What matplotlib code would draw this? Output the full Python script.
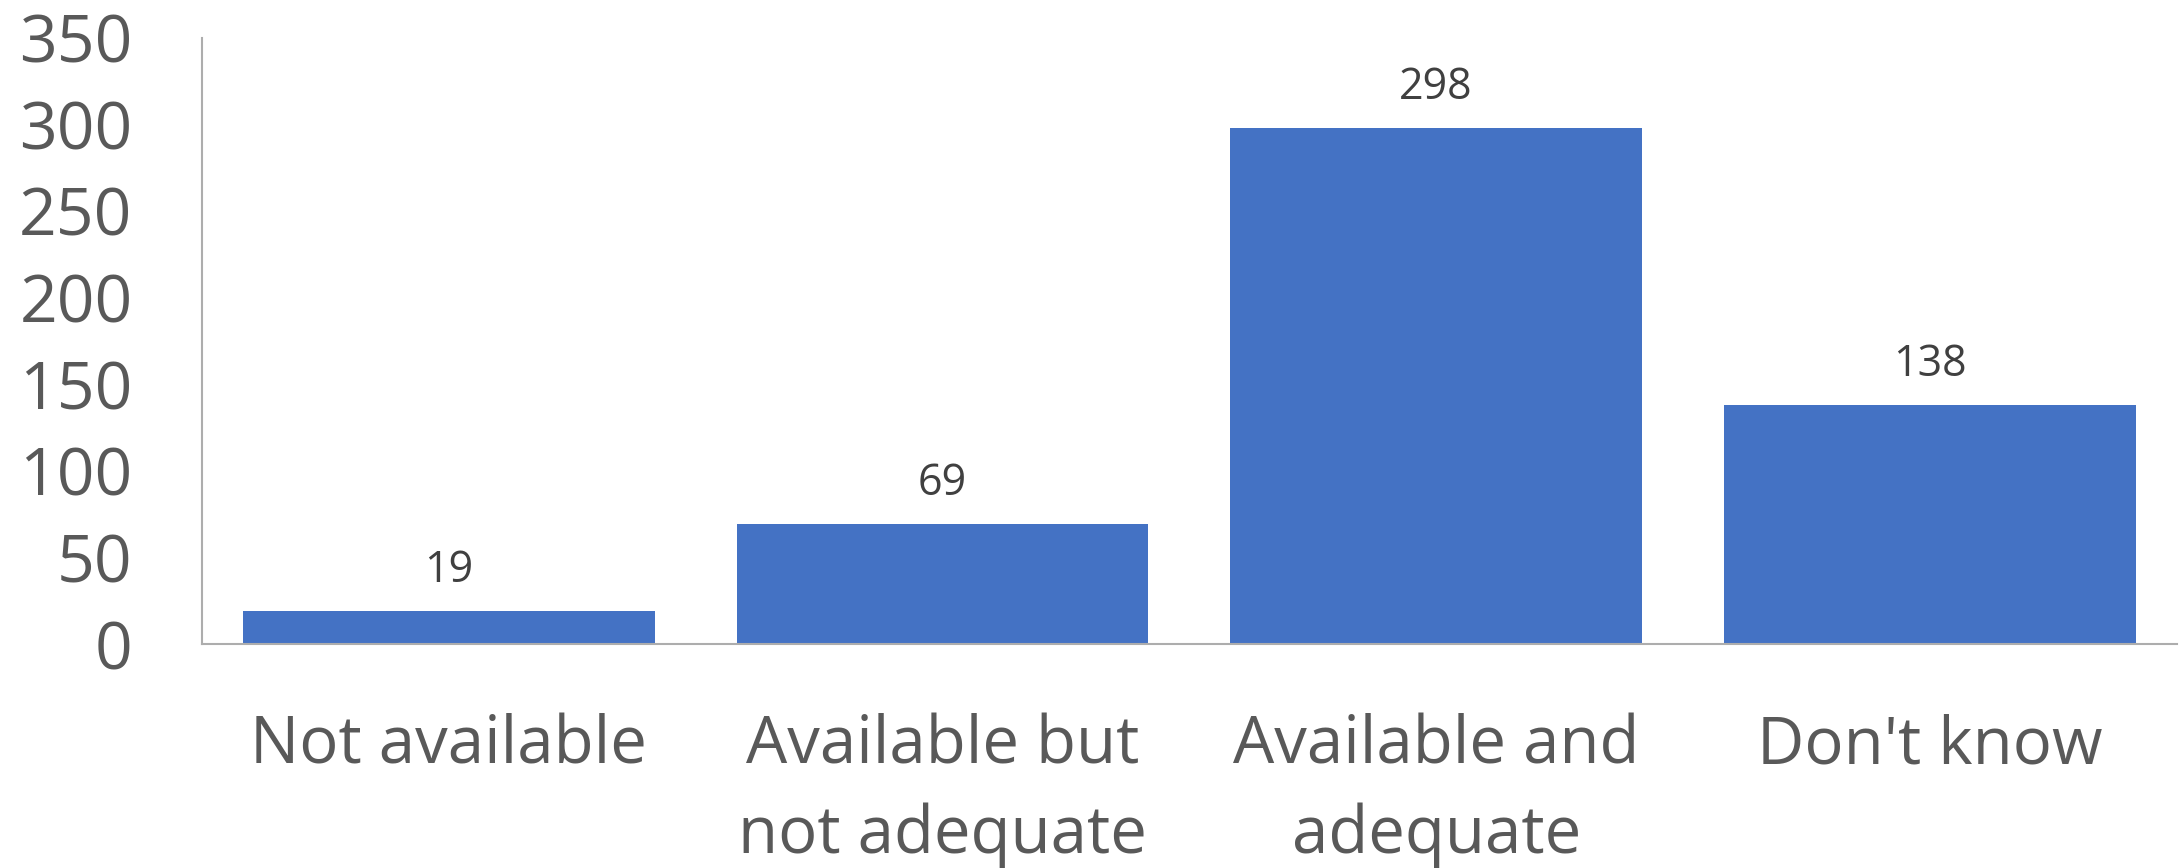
import matplotlib
matplotlib.use("Agg")
import matplotlib.pyplot as plt

# data
categories = ["Not available", "Available but\nnot adequate", "Available and\nadequate", "Don't know"]
counts = [19, 69, 298, 138]
y_ticks = [0, 50, 100, 150, 200, 250, 300, 350]

plt.rcParams['font.family'] = ['Open Sans', 'DejaVu Sans']

fig = plt.figure(figsize=(21.81, 8.68), dpi=100)
ax = fig.add_axes([0.0926, 0.258, 0.9054, 0.6987])

x = range(len(categories))
bars = ax.bar(x, counts, width=0.834, color="#4472C4")

for b, v in zip(bars, counts):
    ax.annotate(str(v), (b.get_x() + b.get_width() / 2, v),
                xytext=(0, 13), textcoords="offset points",
                ha="center", va="bottom", fontsize=31, color="#404040")

ax.set_xlim(-0.5, len(categories) - 0.5)
ax.set_ylim(0, 350)
ax.set_yticks(y_ticks)
ax.set_xticks(list(x))
ax.set_xticklabels(categories, fontsize=47, color="#595959", linespacing=1.45)
ax.tick_params(axis="y", labelsize=47.5, labelcolor="#595959", length=0, pad=50)
ax.tick_params(axis="x", length=0, pad=50)

for s in ["top", "right"]:
    ax.spines[s].set_visible(False)
for s in ["left", "bottom"]:
    ax.spines[s].set_color("#ADADAD")
    ax.spines[s].set_linewidth(1.5)

fig.savefig("out.png", dpi=100)
